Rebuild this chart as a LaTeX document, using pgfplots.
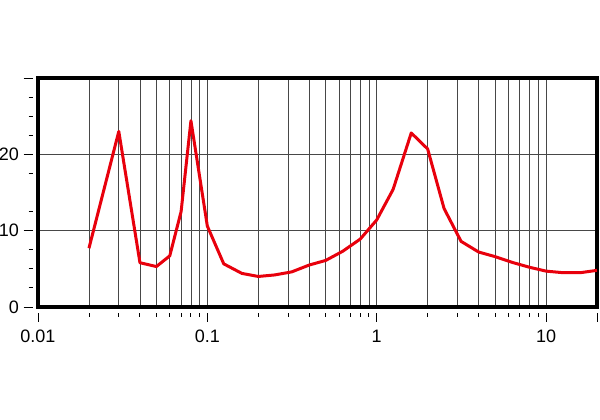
\documentclass[border=0pt]{standalone}
\usepackage{fontspec}
\setmainfont{Liberation Sans}
\usepackage{pgfplots}
\pgfplotsset{compat=1.18}
\definecolor{curvered}{RGB}{232,0,12}
\begin{document}
\begin{tikzpicture}
\useasboundingbox (0,0) rectangle (450pt,315pt);
\begin{axis}[
  at={(28.5pt,84.75pt)}, anchor=south west,
  scale only axis, width=419.25pt, height=171.75pt,
  xmode=log, xmin=0.01, xmax=20, ymin=0, ymax=30,
  xtick pos=bottom, ytick pos=left,
  xtick={0.01,0.1,1,10,20}, xticklabels={0.01,0.1,1,10,{}},
  minor xtick={0.02,0.03,0.04,0.05,0.06,0.07,0.08,0.09,0.2,0.3,0.4,0.5,0.6,0.7,0.8,0.9,2,3,4,5,6,7,8,9},
  ytick={0,10,20,30}, yticklabels={0,10,20,{}},
  minor ytick={2.5,5,7.5,12.5,17.5,22.5,25,27.5},
  tick align=outside, major tick length=6.75pt, minor tick length=3pt,
  x tick style={yshift=-4.5pt, black, line width=0.7pt},
  y tick style={xshift=-4pt, black, line width=0.7pt},
  xmajorgrids, xminorgrids, ymajorgrids,
  major grid style={black!72, line width=0.6pt},
  minor grid style={black!72, line width=0.6pt},
  axis line style={line width=2.6pt},
  tick label style={font=\fontsize{13.5}{15}\selectfont},
  xticklabel style={yshift=-7pt},
  yticklabel style={xshift=-4pt},
  /pgf/number format/assume math mode=true,
]
\addplot[curvered, line width=2.25pt, line join=round, no markers] coordinates {
(0.02,7.7) (0.03,23.0) (0.04,5.8) (0.05,5.3) (0.06,6.7) (0.07,12.5) (0.08,24.4)
(0.1,10.6) (0.125,5.65) (0.16,4.4) (0.2,4.0) (0.25,4.2) (0.315,4.6) (0.4,5.5)
(0.5,6.1) (0.63,7.3) (0.8,8.9) (1.0,11.4) (1.25,15.4) (1.6,22.8) (2.0,20.7)
(2.5,12.9) (3.15,8.6) (4.0,7.2) (5.0,6.6) (6.3,5.85) (8.0,5.2) (10,4.7)
(12.5,4.5) (16,4.5) (20,4.8)
};
\end{axis}
\end{tikzpicture}
\end{document}
